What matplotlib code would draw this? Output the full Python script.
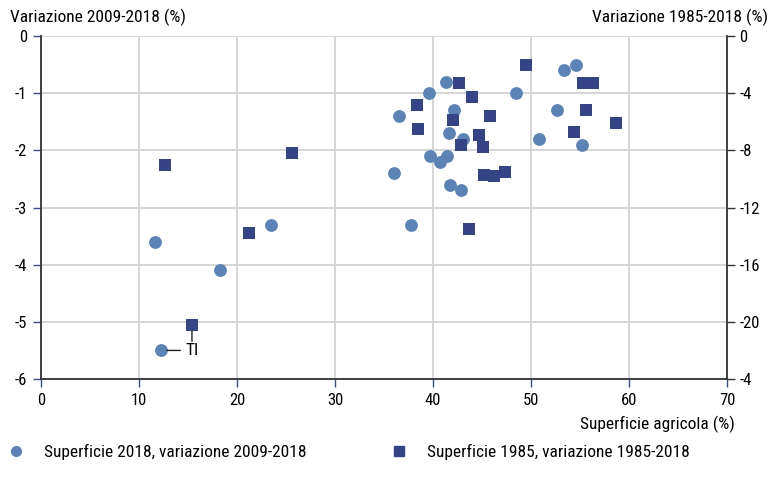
import matplotlib
matplotlib.use('Agg')
import matplotlib.pyplot as plt
from matplotlib.lines import Line2D
from matplotlib import font_manager

names = {f.name for f in font_manager.fontManager.ttflist}
main_font = 'Roboto Condensed' if 'Roboto Condensed' in names else 'DejaVu Sans'
plt.rcParams['font.family'] = [main_font, 'DejaVu Sans']

# ---- data ----
surf_2018 = [11.6, 23.5, 18.3, 12.2, 41.3, 39.6, 36.5, 42.1, 41.6, 43.1, 39.7, 41.4,
             40.7, 36.0, 41.7, 42.9, 37.8, 48.5, 53.4, 54.6, 52.7, 50.8, 55.2]
var_0918 = [-3.6, -3.3, -4.1, -5.5, -0.8, -1.0, -1.4, -1.3, -1.7, -1.8, -2.1, -2.1,
            -2.2, -2.4, -2.6, -2.7, -3.3, -1.0, -0.6, -0.5, -1.3, -1.8, -1.9]

surf_1985 = [12.7, 25.6, 21.2, 15.4, 49.5, 42.7, 44.0, 38.4, 38.5, 45.8, 42.0, 44.7,
             42.9, 45.1, 45.2, 46.2, 47.3, 43.7, 55.3, 56.3, 55.6, 54.4, 58.7]
var_8518 = [-9.0, -8.2, -13.8, -20.2, -2.0, -3.3, -4.3, -4.8, -6.5, -5.6, -5.9, -6.9,
            -7.6, -7.8, -9.7, -9.8, -9.5, -13.5, -3.3, -3.3, -5.2, -6.7, -6.1]

label_idx = 3
label_text = 'TI'

x_ticks = [0, 10, 20, 30, 40, 50, 60, 70]
left_ticks = [0, -1, -2, -3, -4, -5, -6]
right_ticks = [0, -4, -8, -12, -16, -20, -24]
right_labels = ['0', '-4', '-8', '-12', '-16', '-20', '-4']

series1_name = 'Superficie 2018, variazione 2009-2018'
series2_name = 'Superficie 1985, variazione 1985-2018'

c_circle = '#5b83b5'
c_square = '#344486'
c_grid = '#d2d2d2'
c_spine = '#333333'
c_tick = '#3a4a8a'
fs = 12
fs_t = 12.5

fig = plt.figure(figsize=(7.83, 4.9), dpi=100)
ax = fig.add_axes([0.0524, 0.2265, 0.8761, 0.7000])
ax2 = ax.twinx()

ax.set_xlim(0, 70)
ax.set_ylim(-6, 0)
ax2.set_ylim(-24, 0)

ax.set_xticks(x_ticks)
ax.set_yticks(left_ticks)
ax.set_yticklabels([str(t) for t in left_ticks])
ax2.set_yticks(right_ticks)
ax2.set_yticklabels(right_labels)

ax.grid(True, color=c_grid, linewidth=1.3)
ax.set_axisbelow(True)

for a in (ax, ax2):
    a.spines['top'].set_visible(False)
    for s in ('left', 'right', 'bottom'):
        a.spines[s].set_color(c_spine)
        a.spines[s].set_linewidth(1.3)
ax.spines['right'].set_visible(False)
ax2.spines['left'].set_visible(False)
ax2.spines['bottom'].set_visible(False)

ax.tick_params(axis='both', direction='out', length=6, width=1, color=c_tick,
               labelsize=fs, pad=4)
ax2.tick_params(axis='y', direction='out', length=6, width=1, color=c_spine,
                labelsize=fs, pad=3)

ax.scatter(surf_2018, var_0918, s=85, marker='o', color=c_circle, linewidths=0,
           zorder=3, clip_on=False)
ax2.scatter(surf_1985, var_8518, s=78, marker='s', color=c_square, linewidths=0,
            zorder=3, clip_on=False)

# TI annotation
ax.annotate(label_text, xy=(surf_2018[label_idx], var_0918[label_idx]),
            xytext=(23, 0), textcoords='offset points', ha='center', va='center',
            fontsize=fs_t,
            arrowprops=dict(arrowstyle='-', color='#222222', lw=1, shrinkA=2, shrinkB=4.5))
ax2.annotate('', xy=(surf_1985[label_idx], var_8518[label_idx]),
             xytext=(0, -14), textcoords='offset points',
             arrowprops=dict(arrowstyle='-', color='#222222', lw=1, shrinkA=2, shrinkB=4.5))

fig.text(0.0128, 0.965, 'Variazione 2009-2018 (%)', ha='left', va='center', fontsize=fs_t)
fig.text(0.981, 0.965, 'Variazione 1985-2018 (%)', ha='right', va='center', fontsize=fs_t)
fig.text(0.9387, 0.133, 'Superficie agricola (%)', ha='right', va='center', fontsize=fs_t)

h1 = Line2D([], [], marker='o', linestyle='none', color=c_circle, markersize=7)
h2 = Line2D([], [], marker='s', linestyle='none', color=c_square, markersize=7)
fig.legend(handles=[h1], labels=[series1_name], loc='center left',
           bbox_to_anchor=(0.014, 0.077), frameon=False, fontsize=fs_t,
           handlelength=0.6, handletextpad=1.3, borderpad=0, borderaxespad=0)
fig.legend(handles=[h2], labels=[series2_name], loc='center left',
           bbox_to_anchor=(0.503, 0.077), frameon=False, fontsize=fs_t,
           handlelength=0.6, handletextpad=1.3, borderpad=0, borderaxespad=0)

fig.savefig('out.png', dpi=100)
